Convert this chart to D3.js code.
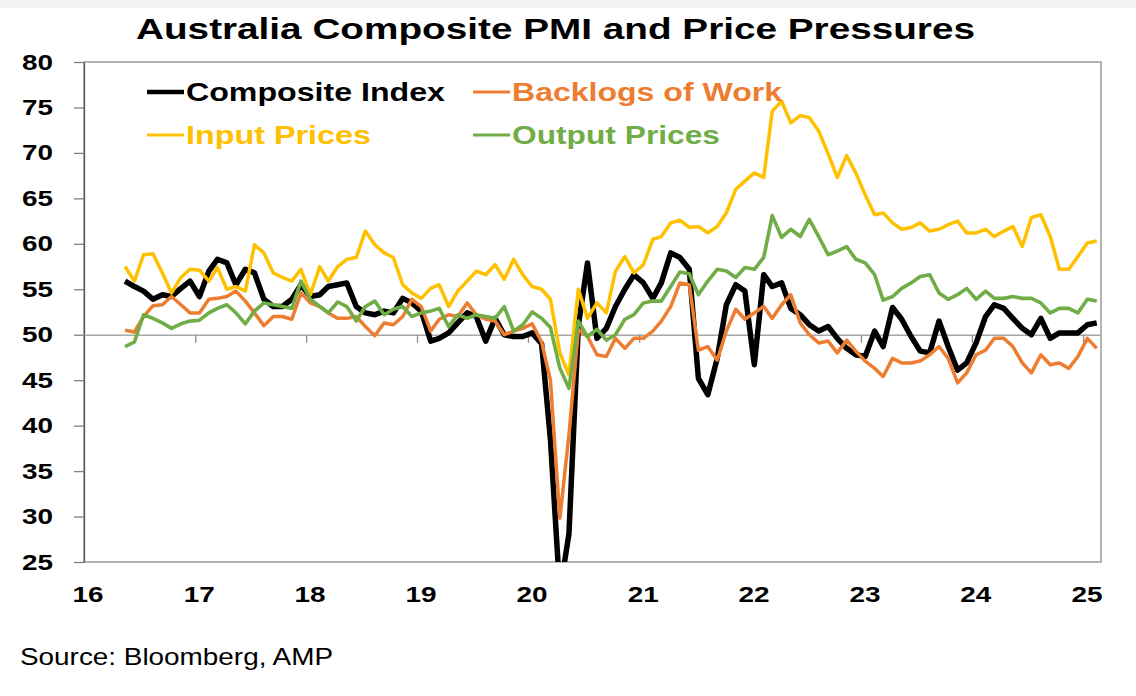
<!DOCTYPE html>
<html>
<head>
<meta charset="utf-8">
<script src="https://cdn.jsdelivr.net/npm/d3@7"></script>
<style>
  body { margin: 0; background: #fff; }
  svg { display: block; font-family: "Liberation Sans", Arial, sans-serif; }
</style>
</head>
<body>
<svg id="chart" width="1136" height="696"></svg>
<script>
// Monthly readings, May 2016 .. Feb 2025 (one row per calendar year)
const compositeIndex = [
  55.9, 55.3, 54.8, 53.9, 54.4, 54.2, 55.1, 55.9,
  54.2, 57.0, 58.3, 57.9, 55.5, 57.2, 56.8, 53.9, 53.1, 53.1, 53.9, 55.5,
  54.2, 54.4, 55.3, 55.5, 55.7, 53.1, 52.4, 52.2, 52.6, 52.4, 54.0, 53.5,
  52.6, 49.3, 49.6, 50.2, 51.3, 52.4, 52.0, 49.3, 51.8, 50.0, 49.8, 49.8,
  50.2, 49.0, 38.5, 21.7, 28.1, 51.0, 57.9, 49.6, 50.7, 53.1, 55.0, 56.6,
  55.7, 54.0, 55.7, 59.0, 58.5, 57.2, 45.2, 43.4, 47.4, 53.3, 55.5, 54.8,
  46.7, 56.6, 55.3, 55.7, 52.9, 52.2, 51.1, 50.4, 50.9, 49.6, 48.5, 47.8,
  47.6, 50.4, 48.7, 53.0, 51.7, 49.8, 48.2, 48.0, 51.5, 48.7, 46.1, 46.9,
  49.1, 52.0, 53.3, 52.9, 51.8, 50.7, 50.0, 51.8, 49.6, 50.2, 50.2, 50.2,
  51.1, 51.3
];

const backlogsOfWork = [
  50.5, 50.3, 52.0, 53.2, 53.3, 54.2, 53.3, 52.4,
  52.4, 53.9, 54.0, 54.2, 54.8, 53.7, 52.4, 51.0, 52.0, 52.0, 51.7, 54.6,
  53.5, 53.1, 52.4, 51.8, 51.8, 52.0, 50.9, 49.9, 51.3, 51.1, 52.0, 53.9,
  53.1, 50.4, 51.7, 52.2, 52.0, 53.5, 52.2, 51.7, 51.5, 50.0, 50.4, 50.7,
  51.2, 49.2, 45.0, 29.8, 39.0, 50.6, 49.8, 47.8, 47.6, 49.6, 48.5, 49.6,
  49.6, 50.4, 51.5, 53.1, 55.7, 55.5, 48.3, 48.7, 47.2, 50.4, 52.8, 51.7,
  52.4, 53.1, 51.8, 53.3, 54.4, 51.3, 50.0, 49.1, 49.3, 48.0, 49.4, 48.2,
  47.1, 46.3, 45.4, 47.4, 46.9, 46.9, 47.1, 47.8, 48.7, 47.4, 44.7, 45.8,
  47.8, 48.3, 49.6, 49.6, 48.7, 46.9, 45.8, 47.8, 46.7, 46.9, 46.3, 47.6,
  49.6, 48.5
];

const inputPrices = [
  57.5, 55.9, 58.8, 58.9, 56.8, 54.6, 56.3, 57.2,
  57.1, 55.9, 57.4, 55.0, 55.3, 54.8, 59.9, 59.0, 56.8, 56.3, 55.9, 57.2,
  54.4, 57.5, 55.9, 57.5, 58.3, 58.5, 61.4, 59.9, 59.0, 58.5, 55.5, 54.6,
  54.0, 55.1, 55.5, 53.1, 54.8, 55.9, 57.0, 56.6, 57.7, 56.1, 58.3, 56.6,
  55.3, 55.0, 53.9, 48.0, 45.6, 55.0, 51.8, 53.5, 52.4, 57.0, 58.6, 56.8,
  57.7, 60.5, 60.8, 62.3, 62.6, 61.8, 61.9, 61.2, 61.9, 63.4, 66.0, 66.9,
  67.8, 67.3, 74.6, 75.7, 73.3, 74.1, 73.9, 72.4, 69.9, 67.3, 69.7, 67.8,
  65.4, 63.2, 63.4, 62.3, 61.6, 61.8, 62.3, 61.4, 61.6, 62.1, 62.5, 61.2,
  61.2, 61.6, 60.8, 61.4, 61.9, 59.7, 62.9, 63.2, 60.8, 57.2, 57.2, 58.6,
  60.1, 60.3
];

const outputPrices = [
  48.7, 49.2, 52.2, 51.8, 51.3, 50.7, 51.2, 51.5,
  51.6, 52.4, 52.9, 53.3, 52.4, 51.2, 52.6, 53.5, 53.3, 53.1, 52.9, 55.9,
  53.9, 53.1, 52.4, 53.6, 53.1, 51.5, 53.1, 53.7, 52.2, 52.8, 53.1, 52.0,
  52.4, 52.6, 52.9, 50.9, 52.2, 51.8, 52.2, 52.0, 51.8, 53.1, 50.4, 51.1,
  52.5, 51.8, 50.8, 46.3, 44.1, 51.5, 49.8, 50.6, 49.4, 50.0, 51.7, 52.2,
  53.5, 53.7, 53.7, 55.3, 56.9, 56.7, 54.4, 55.9, 57.2, 57.0, 56.3, 57.4,
  57.2, 58.5, 63.1, 60.7, 61.6, 60.8, 62.7, 60.8, 58.8, 59.2, 59.7, 58.3,
  57.9, 56.6, 53.8, 54.2, 55.1, 55.7, 56.4, 56.6, 54.6, 53.9, 54.4, 55.1,
  53.9, 54.8, 54.0, 54.0, 54.2, 54.0, 54.0, 53.5, 52.4, 52.9, 52.9, 52.4,
  53.9, 53.7
];

const firstMonth = new Date(2016, 4, 1);
const yearLabels = ['16', '17', '18', '19', '20', '21', '22', '23', '24', '25'];
const yTicks = [25, 30, 35, 40, 45, 50, 55, 60, 65, 70, 75, 80];

const seriesNames = ['Composite Index', 'Backlogs of Work', 'Input Prices', 'Output Prices'];
const seriesValues = [compositeIndex, backlogsOfWork, inputPrices, outputPrices];

// Styling per series (Excel palette)
const COLORS = ['#000000', '#ED7D31', '#FFC000', '#70AD47'];
const WIDTHS = [5.5, 3.5, 3.5, 3.6];

const svg = d3.select('#chart');
const plot = { left: 84, right: 1101, top: 62, bottom: 562 };

// month categories, point sits mid-month
const months = d3.timeMonth.range(firstMonth, d3.timeMonth.offset(firstMonth, compositeIndex.length))
  .map(d => d3.timeDay.offset(d, 14));
const yearStarts = yearLabels.map(s => new Date(2000 + +s, 0, 1));

const x = d3.scaleTime()
  .domain([new Date(2016, 0, 1), new Date(2025, 2, 1)])
  .range([plot.left, plot.right]);
const y = d3.scaleLinear()
  .domain([25, 80])
  .range([plot.bottom, plot.top]);

// faint band at the very top
svg.append('rect')
  .attr('x', 0).attr('y', 0).attr('width', 1136).attr('height', 8)
  .attr('fill', '#f4f4f4');

// Title
svg.append('text')
  .attr('x', 136).attr('y', 39)
  .attr('font-size', 30).attr('font-weight', 'bold')
  .attr('textLength', 839).attr('lengthAdjust', 'spacingAndGlyphs')
  .text('Australia Composite PMI and Price Pressures');

// Plot frame
svg.append('rect')
  .attr('x', plot.left).attr('y', plot.top)
  .attr('width', plot.right - plot.left).attr('height', plot.bottom - plot.top)
  .attr('fill', 'none').attr('stroke', '#8c8c8c').attr('stroke-width', 1.3);

// Y axis
const yAxis = svg.append('g')
  .attr('transform', `translate(${plot.left},0)`)
  .call(d3.axisLeft(y).tickValues(yTicks).tickSize(10).tickSizeOuter(0).tickPadding(21));
yAxis.select('.domain').attr('stroke', '#595959').attr('stroke-width', 1.3);
yAxis.selectAll('.tick line').attr('stroke', '#7f7f7f').attr('stroke-width', 1.3);
yAxis.selectAll('.tick text')
  .attr('font-family', '"Liberation Sans", Arial, sans-serif')
  .attr('font-size', 22).attr('font-weight', 'bold').attr('fill', '#000')
  .attr('textLength', 31).attr('lengthAdjust', 'spacingAndGlyphs');

// Category axis crosses at 50
const xAxis = svg.append('g')
  .attr('transform', `translate(0,${y(50)})`)
  .call(d3.axisBottom(x).tickValues(yearStarts.slice(1)).tickSize(8).tickSizeOuter(0).tickFormat(''));
xAxis.select('.domain').attr('stroke', '#a6a6a6').attr('stroke-width', 1.6);
xAxis.selectAll('.tick line').attr('stroke', '#8c8c8c').attr('stroke-width', 1.3);

// year labels at the bottom
svg.append('g')
  .selectAll('text')
  .data(yearStarts)
  .enter()
  .append('text')
  .attr('x', d => x(d) + 4)
  .attr('y', 602)
  .attr('text-anchor', 'middle')
  .attr('font-size', 22).attr('font-weight', 'bold')
  .attr('textLength', 31).attr('lengthAdjust', 'spacingAndGlyphs')
  .text((d, i) => yearLabels[i]);

// Lines, clipped to the plot area
svg.append('clipPath').attr('id', 'plot-clip')
  .append('rect')
  .attr('x', plot.left).attr('y', plot.top)
  .attr('width', plot.right - plot.left).attr('height', plot.bottom - plot.top);

const line = d3.line()
  .x((d, i) => x(months[i]))
  .y(d => y(d));

svg.append('g')
  .attr('clip-path', 'url(#plot-clip)')
  .selectAll('path')
  .data(seriesValues)
  .enter()
  .append('path')
  .attr('d', d => line(d))
  .attr('fill', 'none')
  .attr('stroke', (d, i) => COLORS[i])
  .attr('stroke-width', (d, i) => WIDTHS[i])
  .attr('stroke-linejoin', 'round');

// Legend (two rows, two columns)
const legendPos = [
  { x: 147, y: 92, w: 259 },
  { x: 473, y: 92, w: 270 },
  { x: 147, y: 135, w: 185 },
  { x: 473, y: 135, w: 208 }
];
const legend = svg.append('g')
  .selectAll('g')
  .data(seriesNames)
  .enter()
  .append('g')
  .attr('transform', (d, i) => `translate(${legendPos[i].x},${legendPos[i].y})`);

legend.append('line')
  .attr('x1', 0).attr('x2', 37).attr('y1', 0).attr('y2', 0)
  .attr('stroke', (d, i) => COLORS[i])
  .attr('stroke-width', (d, i) => i === 0 ? 4.5 : 3.2);

legend.append('text')
  .attr('x', 39).attr('y', 9)
  .attr('font-size', 25).attr('font-weight', 'bold')
  .attr('fill', (d, i) => COLORS[i])
  .attr('textLength', (d, i) => legendPos[i].w)
  .attr('lengthAdjust', 'spacingAndGlyphs')
  .text(d => d);

// Source note
svg.append('text')
  .attr('x', 20).attr('y', 665)
  .attr('font-size', 24)
  .attr('textLength', 313).attr('lengthAdjust', 'spacingAndGlyphs')
  .text('Source: Bloomberg, AMP');
</script>
</body>
</html>
